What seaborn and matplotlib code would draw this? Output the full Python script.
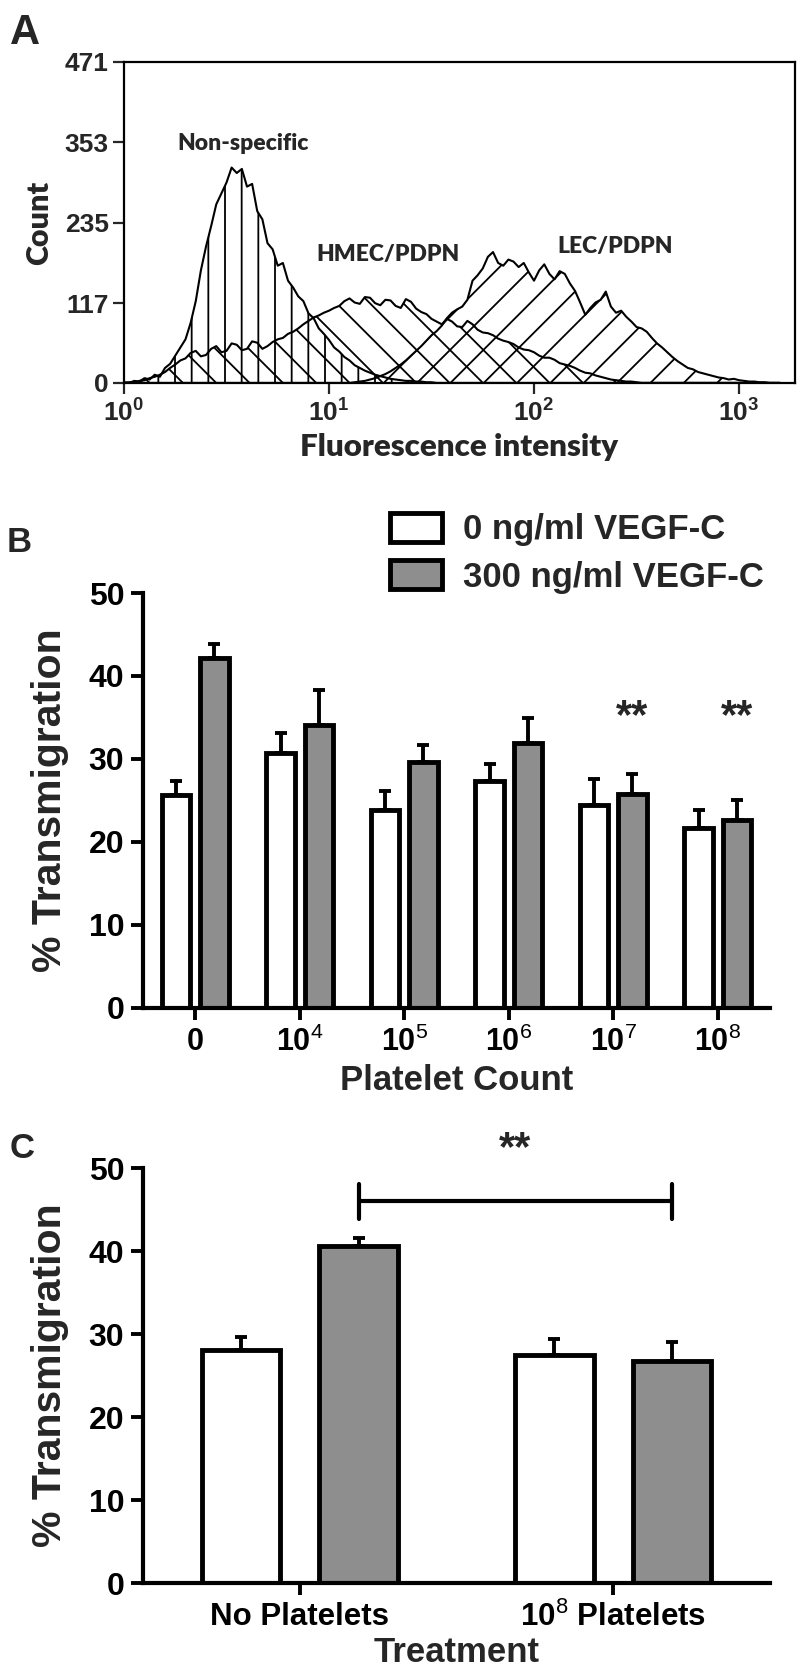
import numpy as np
import pandas as pd
import matplotlib
matplotlib.use('Agg')
import matplotlib.pyplot as plt
import seaborn as sns
from matplotlib.patches import Patch
from matplotlib.ticker import NullLocator

# ---- Panel A: flow cytometry histograms (log10 fluorescence vs count) ----
log_fluor = [0.000, 0.025, 0.050, 0.075, 0.100, 0.125, 0.150, 0.175, 0.200, 0.225,
             0.250, 0.275, 0.300, 0.325, 0.350, 0.375, 0.400, 0.425, 0.450, 0.475,
             0.500, 0.525, 0.550, 0.575, 0.600, 0.625, 0.650, 0.675, 0.700, 0.725,
             0.750, 0.775, 0.800, 0.825, 0.850, 0.875, 0.900, 0.925, 0.950, 0.975,
             1.000, 1.025, 1.050, 1.075, 1.100, 1.125, 1.150, 1.175, 1.200, 1.225,
             1.250, 1.275, 1.300, 1.325, 1.350, 1.375, 1.400, 1.425, 1.450, 1.475,
             1.500, 1.525, 1.550, 1.575, 1.600, 1.625, 1.650, 1.675, 1.700, 1.725,
             1.750, 1.775, 1.800, 1.825, 1.850, 1.875, 1.900, 1.925, 1.950, 1.975,
             2.000, 2.025, 2.050, 2.075, 2.100, 2.125, 2.150, 2.175, 2.200, 2.225,
             2.250, 2.275, 2.300, 2.325, 2.350, 2.375, 2.400, 2.425, 2.450, 2.475,
             2.500, 2.525, 2.550, 2.575, 2.600, 2.625, 2.650, 2.675, 2.700, 2.725,
             2.750, 2.775, 2.800, 2.825, 2.850, 2.875, 2.900, 2.925, 2.950, 2.975,
             3.000, 3.025, 3.050, 3.075, 3.100, 3.125, 3.150, 3.175, 3.200]
nonspec = [1, 0, 3, 2, 7, 5, 12, 9, 22, 28,
           40, 52, 64, 88, 120, 165, 200, 230, 262, 278,
           294, 316, 308, 314, 288, 292, 252, 240, 205, 196,
           172, 176, 150, 140, 127, 120, 102, 95, 80, 72,
           63, 52, 46, 38, 33, 26, 22, 18, 15, 12,
           10, 8, 6, 5, 4, 3, 3, 2, 2, 1,
           1, 0, 0, 0, 0, 0, 0, 0, 0, 0,
           0, 0, 0, 0, 0, 0, 0, 0, 0, 0,
           0, 0, 0, 0, 0, 0, 0, 0, 0, 0,
           0, 0, 0, 0, 0, 0, 0, 0, 0, 0,
           0, 0, 0, 0, 0, 0, 0, 0, 0, 0,
           0, 0, 0, 0, 0, 0, 0, 0, 0, 0,
           0, 0, 0, 0, 0, 0, 0, 0, 0]
hmec = [0, 1, 1, 3, 4, 7, 9, 12, 16, 22,
        27, 33, 36, 44, 47, 39, 41, 50, 54, 45,
        47, 58, 56, 48, 50, 61, 59, 50, 54, 60,
        64, 66, 72, 75, 80, 86, 91, 96, 99, 103,
        106, 110, 113, 120, 124, 118, 116, 126, 125, 117,
        114, 122, 121, 113, 110, 123, 119, 109, 104, 101,
        94, 90, 86, 94, 90, 83, 82, 91, 86, 78,
        74, 73, 70, 65, 62, 60, 57, 52, 49, 48,
        45, 40, 37, 37, 34, 29, 27, 25, 22, 18,
        15, 14, 11, 9, 7, 5, 4, 3, 2, 2,
        1, 0, 0, 0, 0, 0, 0, 0, 0, 0,
        0, 0, 0, 0, 0, 0, 0, 0, 0, 0,
        0, 0, 0, 0, 0, 0, 0, 0, 0]
lec = [0, 0, 0, 0, 0, 0, 0, 0, 0, 0,
       0, 0, 0, 0, 0, 0, 0, 0, 0, 0,
       0, 0, 0, 0, 0, 0, 0, 0, 0, 0,
       0, 0, 0, 0, 0, 0, 0, 0, 0, 0,
       0, 0, 0, 0, 0, 1, 2, 3, 5, 7,
       10, 13, 17, 22, 27, 33, 40, 47, 54, 62,
       70, 76, 84, 95, 103, 108, 112, 122, 150, 158,
       168, 185, 192, 176, 172, 181, 178, 170, 176, 162,
       150, 165, 174, 160, 152, 164, 160, 146, 135, 118,
       100, 110, 118, 122, 134, 112, 103, 106, 97, 90,
       82, 80, 75, 66, 58, 52, 45, 38, 32, 27,
       22, 20, 16, 14, 12, 10, 8, 7, 5, 6,
       4, 3, 2, 2, 1, 1, 0, 0, 0]
count_ticks = [0, 117, 235, 353, 471]

# ---- Panel B ----
platelet_cats = ['0', '1e4', '1e5', '1e6', '1e7', '1e8']
platelet_labels = ['0', r'$\mathbf{10}^{4}$', r'$\mathbf{10}^{5}$',
                   r'$\mathbf{10}^{6}$', r'$\mathbf{10}^{7}$', r'$\mathbf{10}^{8}$']
vegf_levels = ['0 ng/ml VEGF-C', '300 ng/ml VEGF-C']
b_mean_0 = [25.7, 30.7, 23.8, 27.4, 24.4, 21.7]
b_err_0 = [1.7, 2.4, 2.3, 2.0, 3.2, 2.1]
b_mean_300 = [42.2, 34.1, 29.6, 31.9, 25.8, 22.7]
b_err_300 = [1.6, 4.2, 2.1, 3.0, 2.4, 2.4]
b_sig = ['', '', '', '', '**', '**']

# ---- Panel C ----
treat_cats = ['No Platelets', '1e8 Platelets']
treat_labels = ['No Platelets', r'$\mathbf{10}^{8}$ Platelets']
c_mean_0 = [28.1, 27.5]
c_err_0 = [1.5, 1.9]
c_mean_300 = [40.6, 26.7]
c_err_300 = [1.0, 2.4]

bar_colors = {'0 ng/ml VEGF-C': 'white', '300 ng/ml VEGF-C': '#8e8e8e'}
calibri_like = ['Lato', 'DejaVu Sans']

sns.set_theme(style='ticks')
plt.rcParams['font.family'] = ['Liberation Sans', 'DejaVu Sans']
plt.rcParams['mathtext.fontset'] = 'custom'
plt.rcParams['mathtext.rm'] = 'Liberation Sans'
plt.rcParams['mathtext.bf'] = 'Liberation Sans:bold'
plt.rcParams['hatch.linewidth'] = 1.3

fig = plt.figure(figsize=(8, 16.78), dpi=100)

# ================= Panel A =================
axA = fig.add_axes([0.155, 0.7718, 0.83875, 0.1913])
xs = 10 ** np.array(log_fluor)
for counts, hatch in [(lec, '/'), (hmec, '\\'), (nonspec, '|')]:
    axA.fill_between(xs, counts, 0, facecolor='none', edgecolor='black',
                     hatch=hatch, linewidth=0)
    sns.lineplot(x=xs, y=counts, ax=axA, color='black', linewidth=1.5)
axA.set_xscale('log')
axA.set_xlim(1, 10 ** 3.273)
axA.set_ylim(0, 471)
axA.set_xticks([1, 10, 100, 1000])
axA.set_xticklabels([r'$\mathbf{10}^{\mathbf{%d}}$' % i for i in range(4)])
axA.xaxis.set_minor_locator(NullLocator())
axA.set_yticks(count_ticks)
axA.set_yticklabels([str(t) for t in count_ticks], fontweight='bold')
axA.tick_params(axis='both', labelsize=19, length=8, width=1.6, pad=3, direction='out')
for s in axA.spines.values():
    s.set_linewidth(1.6)
    s.set_color('black')
axA.set_xlabel('Fluorescence intensity', family=calibri_like, fontweight='heavy',
               fontsize=22.5, labelpad=5)
axA.set_ylabel('Count', family=calibri_like, fontweight='heavy', fontsize=22, labelpad=8)
for txt, lx, ly in [('Non-specific', 10 ** 0.58, 352), ('HMEC/PDPN', 10 ** 1.29, 188),
                    ('LEC/PDPN', 10 ** 2.395, 200)]:
    axA.text(lx, ly, txt, ha='center', va='center', family=calibri_like,
             fontweight='heavy', fontsize=16.5)


def bar_panel(ax, cats, labels, m0, e0, m300, e300, width, gap, xsize):
    df = pd.DataFrame({
        'group': cats + cats,
        'vegf': [vegf_levels[0]] * len(cats) + [vegf_levels[1]] * len(cats),
        'pct': m0 + m300,
    })
    sns.barplot(data=df, x='group', y='pct', hue='vegf', order=cats,
                hue_order=vegf_levels, palette=bar_colors, edgecolor='black',
                linewidth=3.5, width=width, gap=gap, errorbar=None,
                legend=False, ax=ax, zorder=2)
    centers = []
    for cont, means, errs in zip(ax.containers, [m0, m300], [e0, e300]):
        cx = [b.get_x() + b.get_width() / 2 for b in cont]
        centers.append(cx)
        ax.errorbar(cx, means, yerr=[[0] * len(errs), errs], fmt='none',
                    ecolor='black', elinewidth=2.8, capsize=4.5, capthick=2.8,
                    zorder=1)
    ax.set_ylim(0, 50)
    ax.set_xlim(-0.5, len(cats) - 0.5)
    ax.set_yticks([0, 10, 20, 30, 40, 50])
    ax.set_yticklabels(['0', '10', '20', '30', '40', '50'], fontweight='bold')
    ax.set_xticks(range(len(cats)))
    ax.set_xticklabels(labels, fontweight='bold')
    ax.tick_params(axis='both', length=8.5, width=2.8, pad=5,
                   direction='out', colors='black')
    ax.tick_params(axis='x', labelsize=xsize)
    ax.tick_params(axis='y', labelsize=23)
    sns.despine(ax=ax)
    for s in ['left', 'bottom']:
        ax.spines[s].set_linewidth(3)
        ax.spines[s].set_color('black')
    ax.set_ylabel('% Transmigration', fontweight='bold', fontsize=29.5, labelpad=14)
    return centers


# ================= Panel B =================
axB = fig.add_axes([0.17875, 0.3993, 0.78375, 0.2473])
cB = bar_panel(axB, platelet_cats, platelet_labels, b_mean_0, b_err_0,
               b_mean_300, b_err_300, width=0.73, gap=0.25, xsize=22)
axB.set_xlabel('Platelet Count', fontweight='bold', fontsize=25, labelpad=4)
for cx, sig in zip(cB[1], b_sig):
    if sig:
        axB.text(cx, 35, sig, ha='center', va='center', fontsize=30,
                 fontweight='bold')
handles = [Patch(facecolor=bar_colors[v], edgecolor='black', linewidth=3.5)
           for v in vegf_levels]
axB.legend(handles, vegf_levels, loc='upper left', bbox_to_anchor=(0.4875, 0.6943),
           bbox_transform=fig.transFigure, frameon=False,
           prop={'weight': 'bold', 'size': 25}, handlelength=1.5,
           handleheight=0.9, handletextpad=0.6, labelspacing=0.4,
           borderpad=0, borderaxespad=0)

# ================= Panel C =================
axC = fig.add_axes([0.17875, 0.0566, 0.78375, 0.2473])
cC = bar_panel(axC, treat_cats, treat_labels, c_mean_0, c_err_0,
               c_mean_300, c_err_300, width=0.75, gap=0.333, xsize=22.5)
axC.set_xlabel('Treatment', fontweight='bold', fontsize=25, labelpad=2)
x1, x2 = cC[1][0], cC[1][1]
axC.plot([x1, x2], [46, 46], color='black', lw=3, clip_on=False)
axC.plot([x1, x1], [43.9, 48.1], color='black', lw=3, clip_on=False)
axC.plot([x2, x2], [43.9, 48.1], color='black', lw=3, clip_on=False)
axC.text((x1 + x2) / 2, 52.3, '**', ha='center', va='center', fontsize=30,
         fontweight='bold', clip_on=False)

# panel letters
fig.text(0.012, 1 - 33 / 1678, 'A', fontsize=30, fontweight='bold', va='center')
fig.text(0.008, 1 - 543 / 1678, 'B', fontsize=25, fontweight='bold', va='center')
fig.text(0.012, 1 - 1149 / 1678, 'C', fontsize=25, fontweight='bold', va='center')

fig.savefig('out.png', dpi=100, facecolor='white')
